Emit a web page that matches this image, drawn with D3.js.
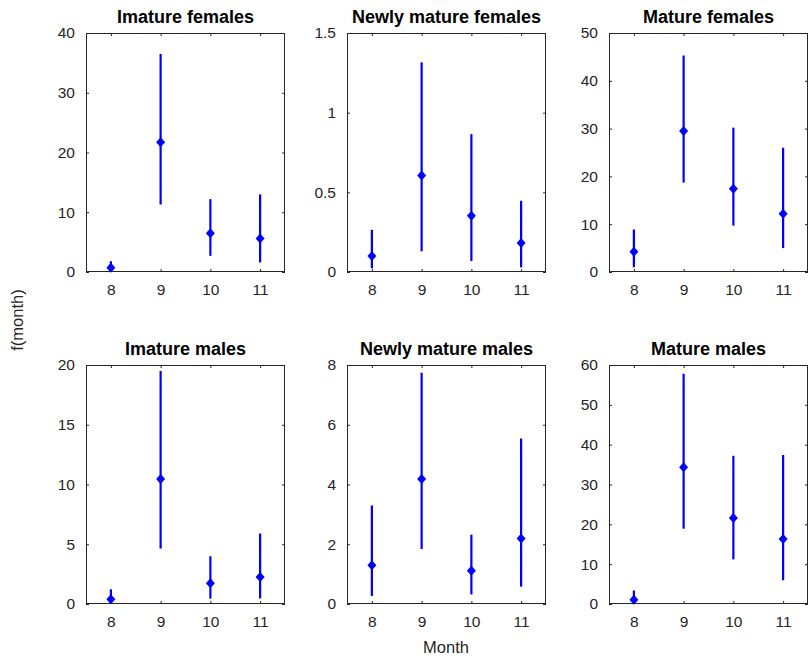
<!DOCTYPE html>
<meta charset="utf-8">
<style>
body { margin: 0; background: #fff; }
svg { font-family: "Liberation Sans", Arial, sans-serif; }
.axis text { font-size: 15.5px; fill: #262626; }
.axis line { stroke: #262626; }
.frame { fill: none; stroke: #262626; stroke-width: 1; }
.title { font-size: 18px; font-weight: bold; fill: #000; }
.lbl { font-size: 16.5px; fill: #262626; }
.err { stroke: #0000ff; stroke-width: 2.2; }
.dot { fill: #0000ff; }
</style>
<svg width="809" height="665"></svg>
<script src="https://d3js.org/d3.v7.min.js"></script>
<script>

var months = [8, 9, 10, 11];

var titles = ["Imature females", "Newly mature females", "Mature females",
              "Imature males", "Newly mature males", "Mature males"];

var yMax = [40, 1.5, 50, 20, 8, 60];
var yTicks = [
  [0, 10, 20, 30, 40],
  [0, 0.5, 1, 1.5],
  [0, 10, 20, 30, 40, 50],
  [0, 5, 10, 15, 20],
  [0, 2, 4, 6, 8],
  [0, 10, 20, 30, 40, 50, 60]
];

// estimates and confidence bounds per month (8..11)
var est = [
  [0.72, 21.7, 6.5, 5.6],
  [0.10, 0.606, 0.353, 0.182],
  [4.25, 29.5, 17.4, 12.2],
  [0.39, 10.45, 1.73, 2.26],
  [1.30, 4.18, 1.11, 2.19],
  [1.09, 34.3, 21.6, 16.3]
];
var lower = [
  [0.05, 11.3, 2.7, 1.6],
  [0.023, 0.13, 0.069, 0.029],
  [1.0, 18.7, 9.7, 5.0],
  [0.03, 4.64, 0.45, 0.47],
  [0.27, 1.84, 0.32, 0.58],
  [0.0, 18.9, 11.2, 5.95]
];
var upper = [
  [1.8, 36.5, 12.2, 13.0],
  [0.265, 1.316, 0.865, 0.447],
  [8.9, 45.3, 30.2, 26.0],
  [1.23, 19.5, 4.0, 5.9],
  [3.30, 7.74, 2.32, 5.54],
  [3.4, 57.8, 37.2, 37.4]
];

var svg = d3.select("svg");
var colLeft = [86, 347, 609],
    rowTop = [33, 365],
    w = 199, h = 239;

var fmt = d3.format("~g");

function noDomain(a) {
  a.attr("class", "axis").attr("font-size", null).attr("font-family", null);
  a.select(".domain").remove();
}

titles.forEach(function(t, i) {
  var x0 = colLeft[i % 3], y0 = rowTop[Math.floor(i / 3)];
  var g = svg.append("g").attr("transform", "translate(" + x0 + "," + y0 + ")");

  var x = d3.scaleLinear().domain([7.5, 11.5]).range([0, w]);
  var y = d3.scaleLinear().domain([0, yMax[i]]).range([h, 0]);

  // axes with inward ticks on all four sides
  g.append("g").attr("transform", "translate(0," + h + ")")
      .call(d3.axisBottom(x).tickValues(months).tickFormat(d3.format("d"))
            .tickSizeInner(-3).tickSizeOuter(0).tickPadding(12))
      .call(noDomain);
  g.append("g")
      .call(d3.axisLeft(y).tickValues(yTicks[i]).tickFormat(fmt)
            .tickSizeInner(-3).tickSizeOuter(0).tickPadding(11))
      .call(noDomain);
  g.append("g")
      .call(d3.axisTop(x).tickValues(months).tickSizeInner(-3).tickSizeOuter(0).tickFormat(""))
      .call(noDomain);
  g.append("g").attr("transform", "translate(" + w + ",0)")
      .call(d3.axisRight(y).tickValues(yTicks[i]).tickSizeInner(-3).tickSizeOuter(0).tickFormat(""))
      .call(noDomain);

  g.append("rect").attr("class", "frame")
      .attr("x", 0.5).attr("y", 0.5).attr("width", w - 1).attr("height", h - 1);

  var pts = months.map(function(m, j) {
    return {m: m, v: est[i][j], lo: lower[i][j], hi: upper[i][j]};
  });

  g.selectAll(".err").data(pts).enter().append("line")
      .attr("class", "err")
      .attr("x1", function(d) { return x(d.m); })
      .attr("x2", function(d) { return x(d.m); })
      .attr("y1", function(d) { return y(d.lo); })
      .attr("y2", function(d) { return y(d.hi); });

  g.selectAll(".dot").data(pts).enter().append("path")
      .attr("class", "dot")
      .attr("d", "M0,-5L4.5,0L0,5L-4.5,0Z")
      .attr("transform", function(d) { return "translate(" + x(d.m) + "," + y(d.v) + ")"; });

  g.append("text").attr("class", "title")
      .attr("x", w / 2).attr("y", -10)
      .attr("text-anchor", "middle")
      .text(t);
});

svg.append("text").attr("class", "lbl")
    .attr("x", 446).attr("y", 653)
    .attr("text-anchor", "middle")
    .text("Month");

svg.append("text").attr("class", "lbl")
    .attr("transform", "translate(23,320) rotate(-90)")
    .attr("text-anchor", "middle")
    .text("f(month)");

</script>
